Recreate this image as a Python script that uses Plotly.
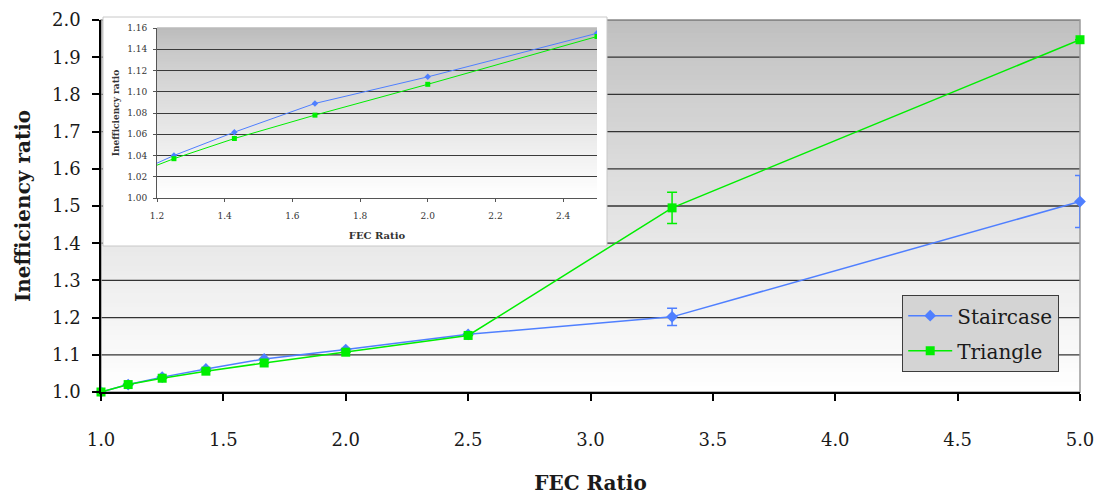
import plotly.graph_objects as go

# ---------------- data ----------------
fec_ratio = [1.0, 1.111, 1.25, 1.4286, 1.6667, 2.0, 2.5, 3.3333, 5.0]
staircase = [1.000, 1.020, 1.040, 1.062, 1.089, 1.114, 1.155, 1.202, 1.512]
triangle = [1.000, 1.020, 1.037, 1.056, 1.078, 1.107, 1.152, 1.495, 1.947]
staircase_err = [None, None, None, None, None, None, None, 0.023, 0.070]
triangle_err = [None, None, None, None, None, None, None, 0.042, None]

x_ticks = [1.0, 1.5, 2.0, 2.5, 3.0, 3.5, 4.0, 4.5, 5.0]
y_ticks = [1.0, 1.1, 1.2, 1.3, 1.4, 1.5, 1.6, 1.7, 1.8, 1.9, 2.0]
inset_x_ticks = [1.2, 1.4, 1.6, 1.8, 2.0, 2.2, 2.4]
inset_y_ticks = [1.00, 1.02, 1.04, 1.06, 1.08, 1.10, 1.12, 1.14, 1.16]

# ---------------- styles ----------------
BLUE = "#4f7fff"
GREEN = "#00ee00"
SERIF = "'DejaVu Serif', 'Liberation Serif', serif"

W, H = 1100, 495
ML, MR, MT, MB = 101, 20, 20, 103
PW, PH = W - ML - MR, H - MT - MB


def px_to_paper_x(px):
    return (px - ML) / PW


def px_to_paper_y(py):
    return (H - MB - py) / PH


INSET_X = [px_to_paper_x(157), px_to_paper_x(597)]
INSET_Y = [px_to_paper_y(198), px_to_paper_y(28)]
FRAME_X = [px_to_paper_x(103), px_to_paper_x(607)]
FRAME_Y = [px_to_paper_y(246), px_to_paper_y(17)]


def lerp_color(c_top, c_bot, t):
    r = round(c_top[0] + (c_bot[0] - c_top[0]) * t)
    g = round(c_top[1] + (c_bot[1] - c_top[1]) * t)
    b = round(c_top[2] + (c_bot[2] - c_top[2]) * t)
    return f"rgb({r},{g},{b})"


def gradient_bands(x0, x1, y0, y1, c_top, c_bot, n=70, power=1.0):
    out = []
    for i in range(n):
        ya = y1 - (y1 - y0) * i / n
        yb = y1 - (y1 - y0) * (i + 1) / n
        t = ((i + 0.5) / n) ** power
        out.append(dict(type="rect", xref="paper", yref="paper",
                        x0=x0, x1=x1, y0=yb, y1=ya + 0.002,
                        fillcolor=lerp_color(c_top, c_bot, t),
                        line=dict(width=0), layer="below"))
    return out


shapes = []
# main plot background gradient
shapes += gradient_bands(0, 1, 0, 1, (190, 190, 190), (255, 255, 255), n=80, power=0.85)
# main gridlines
for v in y_ticks[1:]:
    shapes.append(dict(type="line", xref="paper", yref="y", x0=0, x1=1, y0=v, y1=v,
                       line=dict(color="#333333", width=1.3), layer="below"))
# gray border (top / right)
shapes.append(dict(type="rect", xref="paper", yref="paper", x0=0, x1=1, y0=0, y1=1,
                   line=dict(color="#9a9a9a", width=1.5), fillcolor="rgba(0,0,0,0)",
                   layer="below"))
# inset frame
shapes.append(dict(type="rect", xref="paper", yref="paper",
                   x0=FRAME_X[0], x1=FRAME_X[1], y0=FRAME_Y[0], y1=FRAME_Y[1],
                   fillcolor="white", line=dict(color="#c8c8c8", width=1), layer="below"))
# inset plot background gradient
shapes += gradient_bands(INSET_X[0], INSET_X[1], INSET_Y[0], INSET_Y[1],
                         (186, 186, 186), (255, 255, 255), n=60, power=0.8)

fig = go.Figure()

# main traces
fig.add_trace(go.Scatter(
    x=fec_ratio, y=staircase, name="Staircase", mode="lines+markers",
    line=dict(color=BLUE, width=1.5),
    marker=dict(symbol="diamond", size=9, color=BLUE),
    error_y=dict(type="data", array=staircase_err, visible=True, color=BLUE,
                 thickness=1.5, width=5),
    cliponaxis=False, legendgroup="s", xaxis="x", yaxis="y"))
fig.add_trace(go.Scatter(
    x=fec_ratio, y=triangle, name="Triangle", mode="lines+markers",
    line=dict(color=GREEN, width=1.5),
    marker=dict(symbol="square", size=9, color=GREEN),
    error_y=dict(type="data", array=triangle_err, visible=True, color=GREEN,
                 thickness=1.5, width=5),
    cliponaxis=False, legendgroup="t", xaxis="x", yaxis="y"))

# inset traces
fig.add_trace(go.Scatter(
    x=fec_ratio, y=staircase, mode="lines+markers", showlegend=False,
    line=dict(color=BLUE, width=1),
    marker=dict(symbol="diamond", size=5, color=BLUE),
    xaxis="x2", yaxis="y2", hoverinfo="x+y"))
fig.add_trace(go.Scatter(
    x=fec_ratio, y=triangle, mode="lines+markers", showlegend=False,
    line=dict(color=GREEN, width=1),
    marker=dict(symbol="square", size=5, color=GREEN),
    xaxis="x2", yaxis="y2", hoverinfo="x+y"))

tick_font = dict(family=SERIF, size=18, color="#1a1a1a")
inset_font = dict(family=SERIF, size=9, color="#333333")

fig.update_layout(
    width=W, height=H,
    margin=dict(l=ML, r=MR, t=MT, b=MB, autoexpand=False),
    paper_bgcolor="white",
    plot_bgcolor="rgba(0,0,0,0)",
    shapes=shapes,
    xaxis=dict(domain=[0, 1], range=[1.0, 5.0], tickvals=x_ticks, automargin=False,
               ticktext=[f"{v:.1f}" for v in x_ticks],
               showgrid=False, zeroline=False, showline=True, linecolor="black",
               linewidth=1.5, ticks="outside", ticklen=7, tickcolor="black",
               tickwidth=1.5, tickfont=tick_font, ticklabelstandoff=24,
               title=dict(text="FEC Ratio", standoff=31,
                          font=dict(family=SERIF, size=20, color="#1a1a1a", weight="bold"))),
    yaxis=dict(domain=[0, 1], range=[1.0, 2.0], tickvals=y_ticks, automargin=False,
               ticktext=[f"{v:.1f}" for v in y_ticks],
               showgrid=False, zeroline=False, showline=True, linecolor="black",
               linewidth=1.5, ticks="outside", ticklen=7, tickcolor="black",
               tickwidth=1.5, tickfont=tick_font, ticklabelstandoff=8,
               title=dict(text="Inefficiency ratio", standoff=16,
                          font=dict(family=SERIF, size=20, color="#1a1a1a", weight="bold"))),
    xaxis2=dict(domain=INSET_X, anchor="y2", range=[1.2, 2.5], tickvals=inset_x_ticks,
                automargin=False,
                ticktext=[f"{v:.1f}" for v in inset_x_ticks],
                showgrid=False, zeroline=False, showline=True, linecolor="#555555",
                linewidth=1, ticks="outside", ticklen=3, tickcolor="#555555",
                tickfont=inset_font, ticklabelstandoff=6,
                title=dict(text="FEC Ratio", standoff=12,
                           font=dict(family=SERIF, size=10, color="#333333", weight="bold"))),
    yaxis2=dict(domain=INSET_Y, anchor="x2", range=[1.0, 1.16], tickvals=inset_y_ticks,
                automargin=False,
                ticktext=[f"{v:.2f}" for v in inset_y_ticks],
                showgrid=True, gridcolor="#3a3a3a", gridwidth=1,
                zeroline=False, showline=True, linecolor="#555555",
                linewidth=1, ticks="outside", ticklen=3, tickcolor="#555555",
                tickfont=inset_font, ticklabelstandoff=4,
                title=dict(text="Inefficiency ratio", standoff=6,
                           font=dict(family=SERIF, size=9, color="#333333", weight="bold"))),
    legend=dict(x=px_to_paper_x(902), y=px_to_paper_y(372), xanchor="left", yanchor="bottom",
                bgcolor="#d4d4d4", bordercolor="#3c3c3c", borderwidth=1.2,
                font=dict(family=SERIF, size=20, color="#1a1a1a"),
                itemwidth=44, tracegroupgap=6, traceorder="grouped"),
    showlegend=True,
)

fig.write_html("out.html")
